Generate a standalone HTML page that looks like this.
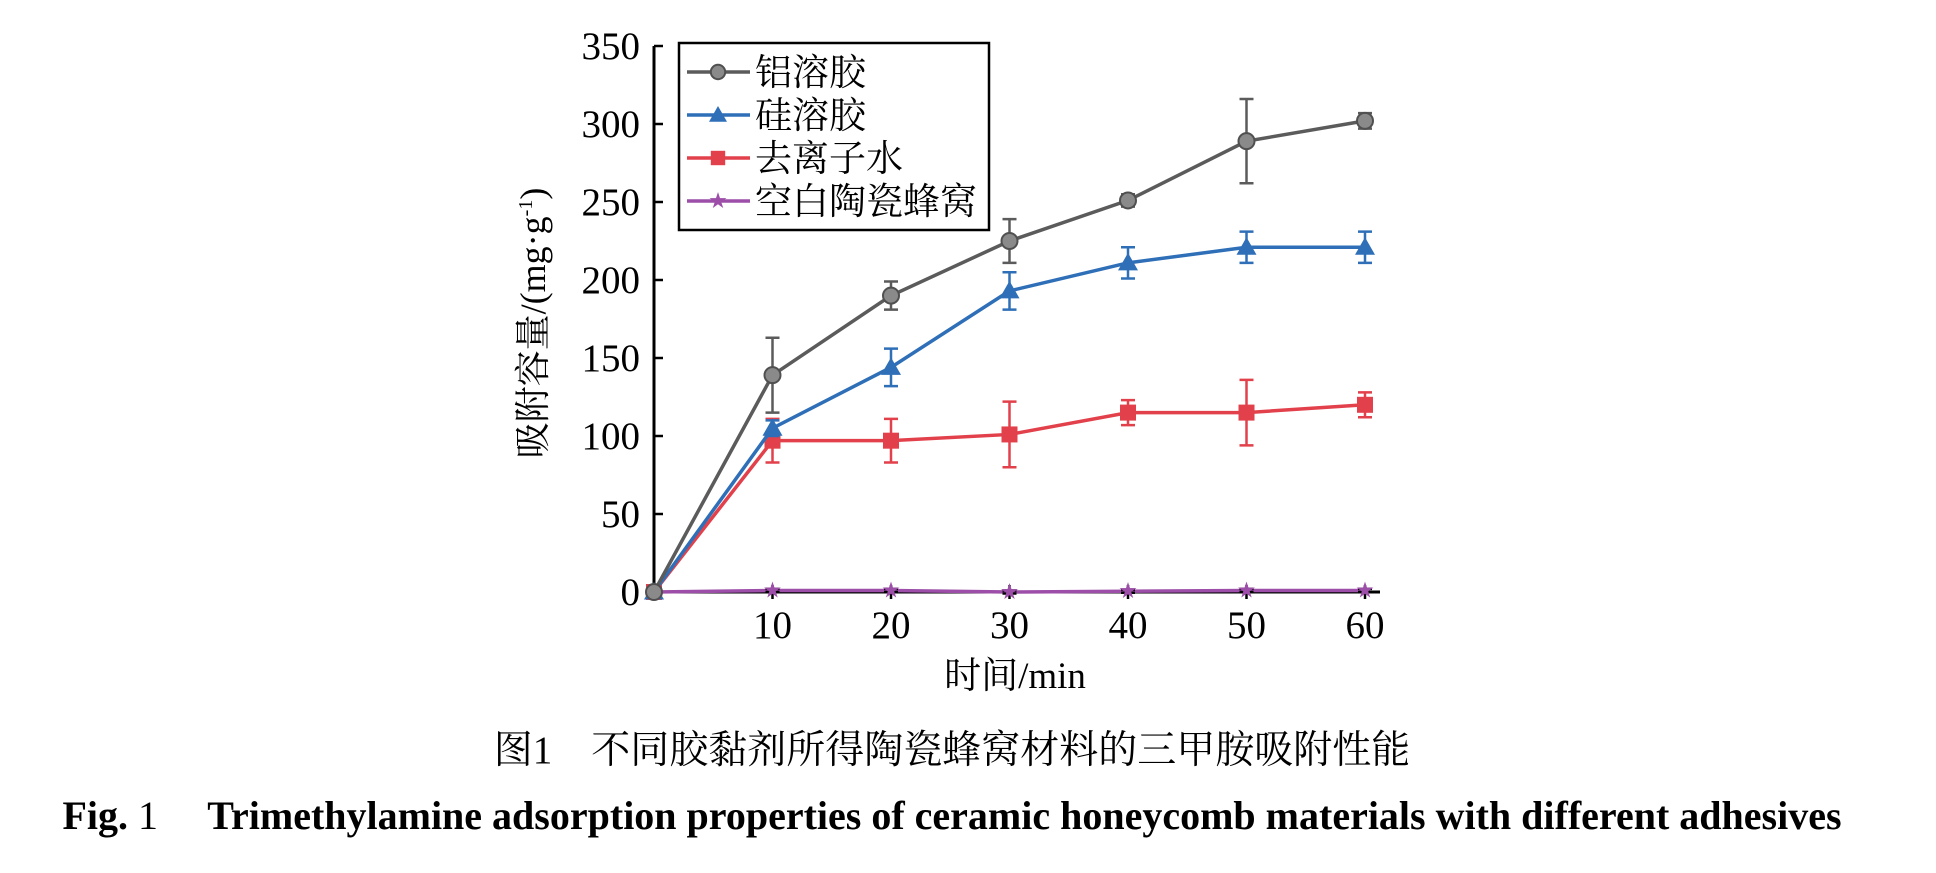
<!DOCTYPE html>
<html><head><meta charset="utf-8"><style>
body{margin:0;background:#fff;}
svg text{font-family:"Liberation Serif","Noto Serif CJK SC",serif;}
</style></head><body>
<svg id="chart" width="1936" height="868" viewBox="0 0 1936 868">
<g id="axes"></g>
<g id="series"></g>
<g id="legend"></g>
<text x="545" y="323" font-size="36" text-anchor="middle" transform="rotate(-90 545 323)">吸附容量/(mg·g<tspan font-size="20" dy="-13">-1</tspan><tspan dy="13">)</tspan></text>
<text x="1015" y="688" font-size="37" text-anchor="middle">时间/min</text>
<text x="952" y="763" font-size="39" text-anchor="middle" font-family="'Noto Sans CJK SC',sans-serif">图1　不同胶黏剂所得陶瓷蜂窝材料的三甲胺吸附性能</text>
<text x="952" y="829" font-size="40" font-weight="bold" text-anchor="middle">Fig. <tspan font-weight="normal">1</tspan>　 Trimethylamine adsorption properties of ceramic honeycomb materials with different adhesives</text>
</svg>
<script>
const xValues=[0,10,20,30,40,50,60];
const xTicks=[10,20,30,40,50,60];
const yTicks=[0,50,100,150,200,250,300,350];
const seriesNames=["铝溶胶","硅溶胶","去离子水","空白陶瓷蜂窝"];
const alValues=[0,139,190,225,251,289,302];
const alErr=[0,24,9,14,4,27,5];
const siValues=[0,105,144,193,211,221,221];
const siErr=[0,5,12,12,10,10,10];
const waterValues=[0,97,97,101,115,115,120];
const waterErr=[0,14,14,21,8,21,8];
const blankValues=[0,1,1,0,0.5,1,1];
const blankErr=[0,1,1,1,1,1,1];
const NS="http://www.w3.org/2000/svg";
const X0=654,XS=(1365-654)/60,Y0=592,YS=(592-46)/350;
const sx=v=>X0+v*XS, sy=v=>Y0-v*YS;
function mk(tag,attrs,parent){const e=document.createElementNS(NS,tag);for(const k in attrs)e.setAttribute(k,attrs[k]);parent.appendChild(e);return e;}
const axes=document.getElementById('axes');
let l=mk('line',{x1:X0,y1:sy(350),x2:X0,y2:Y0,stroke:'#000','stroke-width':3},axes);


l=mk('line',{x1:X0,y1:Y0,x2:1380,y2:Y0,stroke:'#000','stroke-width':3},axes);


yTicks.forEach(t=>{
 let tk=mk('line',{x1:X0,y1:sy(t),x2:X0+9,y2:sy(t),stroke:'#000','stroke-width':2.5},axes);
 
 
 let tx=mk('text',{x:X0-14,y:sy(t)+13,'font-size':39,'text-anchor':'end'},axes);
 tx.textContent=t;
 
 
});
xTicks.forEach(t=>{
 let tk=mk('line',{x1:sx(t),y1:Y0-7,x2:sx(t),y2:Y0+7,stroke:'#000','stroke-width':2.5},axes);
 
 
 let tx=mk('text',{x:sx(t),y:Y0+46,'font-size':39,'text-anchor':'middle'},axes);
 tx.textContent=t;
 
 
});
function marker(kind,cx,cy,color,parent,sz){
 sz=sz||1;let e;
 if(kind==='circle'){e=mk('circle',{cx:cx,cy:cy,r:8*sz,fill:'#8a8a8a',stroke:'#505050','stroke-width':2},parent);}
 else if(kind==='tri'){const r=10*sz;e=mk('polygon',{points:`${cx},${cy-r} ${cx+r},${cy+r*0.75} ${cx-r},${cy+r*0.75}`,fill:color},parent);}
 else if(kind==='sq'){const r=8*sz;e=mk('rect',{x:cx-r,y:cy-r,width:2*r,height:2*r,fill:color},parent);}
 else {e=mk('text',{x:cx,y:cy+6,'font-size':18,'text-anchor':'middle',fill:color},parent);e.textContent='★';}
 return e;
}
const seriesDefs=[
 {vals:alValues,err:alErr,color:'#5b5b5b',kind:'circle',name:'al-sol'},
 {vals:siValues,err:siErr,color:'#2e6fb8',kind:'tri',name:'si-sol'},
 {vals:waterValues,err:waterErr,color:'#e2414b',kind:'sq',name:'deionized-water'},
 {vals:blankValues,err:blankErr,color:'#9c4ea8',kind:'star',name:'blank-honeycomb'}];
const sg=document.getElementById('series');
[...seriesDefs].reverse().forEach(s=>{
 const g=mk('g',{},sg);
 
 
 const p=mk('polyline',{points:xValues.map((x,i)=>sx(x)+','+sy(s.vals[i])).join(' '),fill:'none',stroke:s.color,'stroke-width':3.5},g);
 
 
 xValues.forEach((x,i)=>{
  if(s.err[i]>0){
   const eb=mk('path',{d:`M${sx(x)},${sy(s.vals[i]+s.err[i])}V${sy(s.vals[i]-s.err[i])}M${sx(x)-7},${sy(s.vals[i]+s.err[i])}h14M${sx(x)-7},${sy(s.vals[i]-s.err[i])}h14`,stroke:s.kind==='star'?'#000':s.color,'stroke-width':2.5,fill:'none'},g);
   
   
  }
  const m=marker(s.kind,sx(x),sy(s.vals[i]),s.color,g);
  
  
 });
});
const lg=document.getElementById('legend');
const box=mk('rect',{x:679,y:43,width:310,height:187,fill:'#fff',stroke:'#000','stroke-width':2.5},lg);


seriesDefs.forEach((s,i)=>{
 const y=72+i*43;
 const g=mk('g',{},lg);
 
 
 mk('line',{x1:687,y1:y,x2:750,y2:y,stroke:s.color,'stroke-width':3.5},g);
 marker(s.kind,718,y,s.color,g,0.9);
 const t=mk('text',{x:755,y:y+13,'font-size':37},g);
 t.textContent=seriesNames[i];
});
</script>
</body></html>
